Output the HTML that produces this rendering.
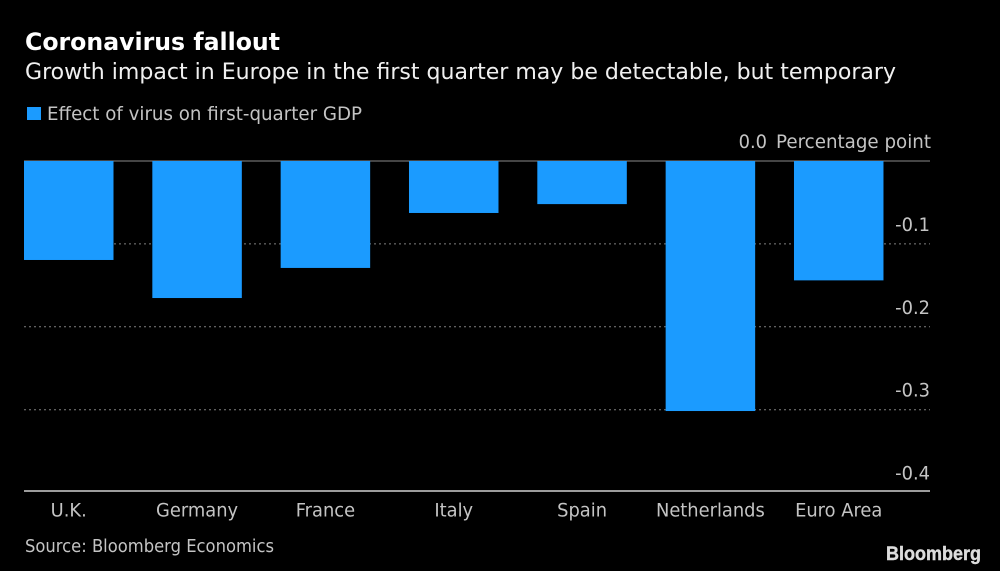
<!DOCTYPE html>
<html lang="en">
<head>
<meta charset="utf-8">
<title>Coronavirus fallout</title>
<style>
html,body{margin:0;padding:0;background:#000;}
svg{display:block;}
text{font-family:"DejaVu Sans","Liberation Sans",sans-serif;}
</style>
</head>
<body>
<svg id="chart" width="1000" height="571" viewBox="0 0 1000 571" xmlns="http://www.w3.org/2000/svg">
  <rect x="0" y="0" width="1000" height="571" fill="#000"/>
  <text x="25" y="50" font-size="24" font-weight="700" fill="#fff" textLength="255" lengthAdjust="spacingAndGlyphs">Coronavirus fallout</text>
  <text x="25" y="79" font-size="22" fill="#f0f0f0" textLength="871" lengthAdjust="spacingAndGlyphs">Growth impact in Europe in the first quarter may be detectable, but temporary</text>
  <rect x="27" y="107" width="14" height="13" fill="#1b9bff"/>
  <text x="47" y="120" font-size="19" fill="#c4c4c4" textLength="315" lengthAdjust="spacingAndGlyphs">Effect of virus on first-quarter GDP</text>
  <text x="776" y="148" font-size="19" fill="#c4c4c4" textLength="155" lengthAdjust="spacingAndGlyphs">Percentage point</text>
  <g id="grid"></g>
  <g id="bars"></g>
  <g id="y-labels"></g>
  <g id="x-labels"></g>
  <line x1="24" x2="930" y1="491" y2="491" stroke="#d0d0d0" stroke-width="1.5"/>
  <text x="25" y="552" font-size="18" fill="#c4c4c4" textLength="249" lengthAdjust="spacingAndGlyphs">Source: Bloomberg Economics</text>
  <text x="886" y="560" font-size="19" font-weight="700" fill="#dcdcdc" stroke="#dcdcdc" stroke-width="0.4" textLength="95" lengthAdjust="spacingAndGlyphs" style="font-family:'Liberation Sans',sans-serif">Bloomberg</text>
</svg>
<script>
const categories = ["U.K.", "Germany", "France", "Italy", "Spain", "Netherlands", "Euro Area"];
const seriesValues = [-0.1194, -0.1653, -0.129, -0.0627, -0.052, -0.3016, -0.144];
const yTicks = [0, -0.1, -0.2, -0.3, -0.4];
const yTickLabels = ["0.0", "-0.1", "-0.2", "-0.3", "-0.4"];

const NS = "http://www.w3.org/2000/svg";
const plotLeft = 24, plotRight = 930, yZero = 161, pxPerUnit = 829;
const bandStep = 128.33, barWidth = 89.5;
const narrow = 0.94;

function yScale(v) { return yZero - v * pxPerUnit; }
function xBar(i) { return plotLeft + i * bandStep; }
function xCenter(i) { return xBar(i) + barWidth / 2; }
function condense(t) {
  t.setAttribute("textLength", t.getComputedTextLength() * narrow);
  t.setAttribute("lengthAdjust", "spacingAndGlyphs");
}

const grid = document.getElementById("grid");
yTicks.forEach(function (t, i) {
  if (i === yTicks.length - 1) return;
  const line = document.createElementNS(NS, "line");
  
  
  line.setAttribute("x1", plotLeft);
  line.setAttribute("x2", plotRight);
  line.setAttribute("y1", yScale(t));
  line.setAttribute("y2", yScale(t));
  line.setAttribute("stroke", t === 0 ? "#8a8a8a" : "#808080");
  line.setAttribute("stroke-width", "1");
  if (t !== 0) line.setAttribute("stroke-dasharray", "2 3");
  grid.appendChild(line);
});

const bars = document.getElementById("bars");
seriesValues.forEach(function (v, i) {
  const r = document.createElementNS(NS, "rect");
  
  
  r.setAttribute("x", xBar(i));
  r.setAttribute("y", yScale(0));
  r.setAttribute("width", barWidth);
  r.setAttribute("height", yScale(v) - yScale(0));
  r.setAttribute("fill", "#1b9bff");
  bars.appendChild(r);
});

const yLabels = document.getElementById("y-labels");
yTickLabels.forEach(function (label, i) {
  const t = document.createElementNS(NS, "text");
  
  
  const first = i === 0;
  t.setAttribute("x", first ? 767 : plotRight);
  t.setAttribute("y", first ? 148 : yScale(yTicks[i]) - 13);
  t.setAttribute("text-anchor", "end");
  t.setAttribute("font-size", "19");
  t.setAttribute("fill", "#c4c4c4");
  t.textContent = label;
  yLabels.appendChild(t);
  condense(t);
});

const xLabels = document.getElementById("x-labels");
categories.forEach(function (c, i) {
  const t = document.createElementNS(NS, "text");
  
  
  t.setAttribute("x", xCenter(i));
  t.setAttribute("y", 516.5);
  t.setAttribute("text-anchor", "middle");
  t.setAttribute("font-size", "19");
  t.setAttribute("fill", "#c4c4c4");
  t.textContent = c;
  xLabels.appendChild(t);
  condense(t);
});
</script>
</body>
</html>
